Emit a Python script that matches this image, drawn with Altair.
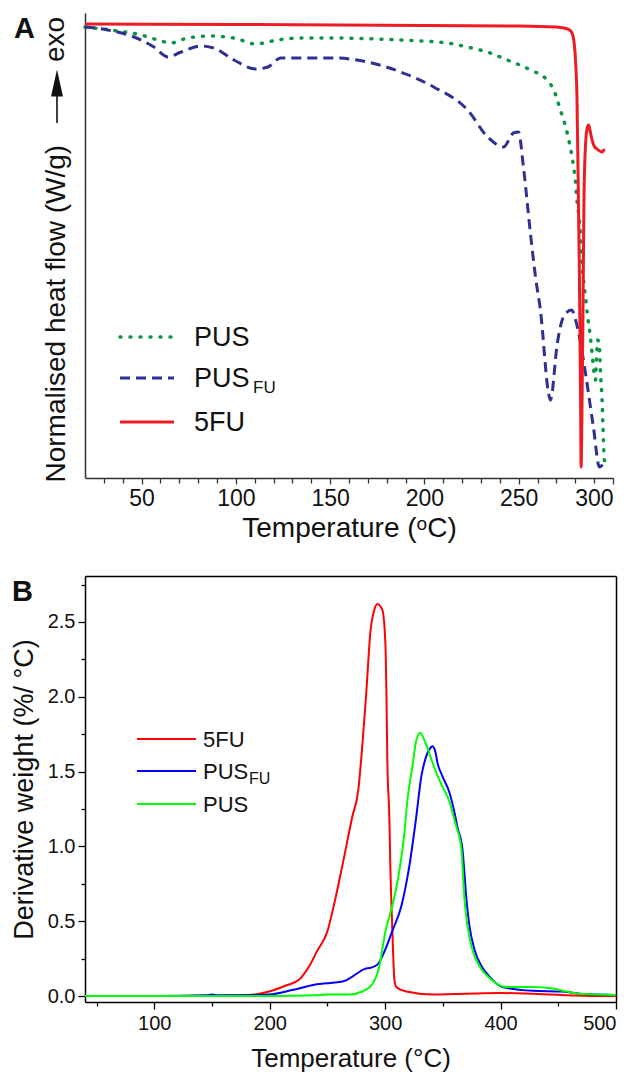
import altair as alt
import pandas as pd

FONT = "Liberation Sans"

# ---------------- Panel A: DSC (normalised heat flow, arbitrary units) ----------------
a_pus_T = [20, 33.8, 49.7, 58.7, 65.5, 72.5, 85.7, 98.9, 110.6, 122, 134.4, 150, 187, 212, 222.7,
           233.3, 243.9, 256.2, 265, 268.6, 272.1, 275.7, 278.3, 280, 280.9, 282.7, 283.6, 284.5,
           285.4, 286.6, 288, 288.9, 289.8, 290.7, 291.2, 291.9, 292.8, 293.3, 294.2, 294.7, 295.4, 296.5]
a_pus_v = [451, 448, 443, 438, 435, 439, 442, 440, 434, 438, 440, 440, 438, 435, 431,
           426, 418, 408, 398, 388, 368, 345, 321, 298, 278, 245, 211, 196,
           181, 161, 141, 125, 108, 98, 118, 138, 131, 108, 78, 51, 18, 15]

a_pusfu_T = [20, 32, 46, 56.5, 64, 71, 81.4, 88.3, 99, 110.6, 117, 123.8, 134.4, 152, 170, 187.4,
             204.9, 222.9, 233.5, 242, 247.2, 249.9, 252.5, 256.2, 258.9, 261.5, 265.8, 266.8,
             270.5, 273.7, 277.9, 281.1, 284.3, 289.6, 292.8, 296]
a_pusfu_v = [451, 448, 441, 431, 421, 426, 432, 430, 418, 409, 411, 420, 420, 420, 416, 406,
             391, 368, 341, 331, 345, 346, 311, 245, 201, 168, 85, 78,
             135, 161, 168, 151, 118, 51, 11, 18]

a_5fu_T = [20, 100, 200, 250, 270, 276, 278, 279.2, 280.2, 280.9, 281.5, 282.2, 282.8, 283.1,
           283.5, 284, 284.6, 285.3, 286.3, 287.1, 288, 288.9, 290, 291.5, 293, 294.2, 295.4]
a_5fu_v = [454, 453.5, 452.5, 452, 451, 449, 446, 438, 415, 380, 300, 200, 80, 11,
           60, 150, 278, 328, 350, 353, 346, 338, 332, 329, 327, 326, 329]

# ---------------- Panel B: DTG (derivative weight, %/°C) ----------------
b_5fu_T = [40, 100, 150, 180, 199.6, 214, 225.6, 234.3, 241, 249.9, 256, 262.9, 271.6, 276.8,
           280.2, 283.7, 287.2, 290.6, 293.2, 297.6, 300.2, 301.1, 301.9, 303.7, 304.5, 306.3,
           308, 309.7, 318.4, 341, 399, 485.8, 500]
b_5fu_v = [0.0, 0.0, 0.0, 0.005, 0.03, 0.07, 0.11, 0.2, 0.3, 0.43, 0.62, 0.87, 1.2, 1.38,
           1.67, 2.03, 2.43, 2.58, 2.62, 2.58, 2.36, 2.03, 1.58, 1.18, 0.87, 0.43,
           0.11, 0.06, 0.03, 0.01, 0.02, 0.0, 0.0]

b_pusfu_T = [40, 100, 145, 150, 155, 180, 199.6, 219.5, 238.6, 264.6, 271.6, 282, 288, 293.3, 299,
             306, 314, 321, 327, 331.4, 334, 338.4, 341, 343.6, 345.3, 349.6, 355.7, 360, 362.6,
             367, 370.4, 373, 377.4, 383.4, 390.4, 401.7, 427.7, 453.7, 471, 499.7]
b_pusfu_v = [0.0, 0.0, 0.005, 0.01, 0.005, 0.005, 0.01, 0.04, 0.075, 0.10, 0.13, 0.18, 0.19, 0.21, 0.29,
             0.43, 0.6, 0.87, 1.2, 1.47, 1.56, 1.65, 1.67, 1.63, 1.56, 1.47, 1.36, 1.23, 1.13,
             0.98, 0.65, 0.47, 0.31, 0.2, 0.13, 0.06, 0.035, 0.03, 0.013, 0.007]

b_pus_T = [40, 100, 200, 240, 250, 269, 280, 289, 295, 300.2, 305.4, 310.6, 316.7, 319.3, 323.6,
           327, 330.5, 334, 340.1, 344.4, 349.6, 355.7, 360, 361.8, 366.1, 368.7, 371.3, 375.6,
           383.4, 390.4, 405.1, 427.7, 445, 457.2, 471, 499.7]
b_pus_v = [0.0, 0.0, 0.0, 0.005, 0.01, 0.01, 0.03, 0.08, 0.2, 0.43, 0.58, 0.76, 1.09, 1.31, 1.53,
           1.71, 1.76, 1.71, 1.58, 1.49, 1.4, 1.3, 1.18, 1.13, 0.98, 0.65, 0.47, 0.31,
           0.18, 0.12, 0.06, 0.06, 0.05, 0.03, 0.013, 0.007]

a_ticks = list(range(30, 301, 10))
b_xticks = list(range(50, 501, 50))
b_yticks = [i * 0.25 for i in range(0, 12)]

COL_A = {"PUS": "#0b9444", "PUSFU": "#2e3192", "5FU": "#ed1c24"}
COL_B = {"PUS": "#00ff00", "PUSFU": "#0000ff", "5FU": "#ff0000"}

WA, HA = 528, 465
WB, HB = 531, 426


def df(T, v):
    return pd.DataFrame({"T": T, "v": v})


one = pd.DataFrame({"k": [0]})

# ---------- Panel A ----------
axA_x = alt.Axis(values=a_ticks, labelExpr="datum.value % 50 === 0 ? datum.label : ''",
                 tickSize={"condition": {"test": "datum.value % 50 === 0", "value": 6}, "value": 5},
                 grid=False, domainColor="#333333", domainWidth=1.5, tickColor="#333333", tickWidth=1.3,
                 labelFont=FONT, labelFontSize=23, labelColor="#111111", labelPadding=3,
                 title="Temperature (ᵒC)", titleFont=FONT, titleFontSize=28, titleFontWeight="normal",
                 titleColor="#111111", titlePadding=4)
axA_y = alt.Axis(labels=False, ticks=False, grid=False, domainColor="#333333", domainWidth=1.5,
                 title="Normalised heat flow (W/g)", titleFont=FONT, titleFontSize=28,
                 titleFontWeight="normal", titleColor="#111111", titleAngle=270, titleAlign="left",
                 titleBaseline="alphabetic", titleX=-21, titleY=469)
xA = alt.X("T:Q", scale=alt.Scale(domain=[20, 300], nice=False, zero=False), axis=axA_x)
yA = alt.Y("v:Q", scale=alt.Scale(domain=[0, 465], nice=False, zero=False), axis=axA_y)

lA_pus = alt.Chart(df(a_pus_T, a_pus_v)).mark_line(
    interpolate="monotone", color=COL_A["PUS"], strokeWidth=3.5, strokeDash=[1, 9], strokeCap="round"
).encode(x=xA, y=yA)
lA_pusfu = alt.Chart(df(a_pusfu_T, a_pusfu_v)).mark_line(
    interpolate="monotone", color=COL_A["PUSFU"], strokeWidth=3, strokeDash=[10, 6]
).encode(x=xA, y=yA)
lA_5fu = alt.Chart(df(a_5fu_T, a_5fu_v)).mark_line(
    interpolate="monotone", color=COL_A["5FU"], strokeWidth=3
).encode(x=xA, y=yA)

exo = alt.Chart(one).mark_text(text="exo", angle=270, align="left", baseline="alphabetic",
                               font=FONT, fontSize=28, color="#111111").encode(
    x=alt.value(-21), y=alt.value(49))
arrow_line = alt.Chart(one).mark_rule(color="#111111", strokeWidth=1.6).encode(
    x=alt.value(-28), y=alt.value(80), y2=alt.value(110))
arrow_head = alt.Chart(one).mark_point(shape="M0,-1L0.44,1L-0.44,1Z", filled=True, size=729,
                                       color="#111111", opacity=1).encode(
    x=alt.value(-28), y=alt.value(70))
labA = alt.Chart(one).mark_text(text="A", align="left", baseline="alphabetic", font=FONT,
                                fontSize=29, fontWeight="bold", color="#111111").encode(
    x=alt.value(-71), y=alt.value(25))

legA = []
rowsA = [("PUS", "", COL_A["PUS"], [1, 9], "round", 3.5, 324),
         ("PUS", "FU", COL_A["PUSFU"], [10, 6], "butt", 3, 365),
         ("5FU", "", COL_A["5FU"], None, "butt", 3, 409)]
for main, sub, col, dash, cap, sw, yy in rowsA:
    kw = dict(color=col, strokeWidth=sw, strokeCap=cap)
    if dash:
        kw["strokeDash"] = dash
    legA.append(alt.Chart(one).mark_rule(**kw).encode(
        x=alt.value(35), x2=alt.value(89), y=alt.value(yy)))
    legA.append(alt.Chart(one).mark_text(text=main, align="left", baseline="alphabetic", font=FONT,
                                         fontSize=27, color="#111111").encode(
        x=alt.value(109), y=alt.value(yy + 9)))
    if sub:
        legA.append(alt.Chart(one).mark_text(text=sub, align="left", baseline="alphabetic", font=FONT,
                                             fontSize=17, color="#111111").encode(
            x=alt.value(168), y=alt.value(yy + 15)))

chartA = alt.layer(lA_pus, lA_pusfu, lA_5fu, exo, arrow_line, arrow_head, labA, *legA).properties(
    width=WA, height=HA, view=alt.ViewBackground(strokeOpacity=0))

# ---------- Panel B ----------
axB_x = alt.Axis(values=b_xticks, labelExpr="datum.value % 100 === 0 ? datum.label : ''",
                 tickSize={"condition": {"test": "datum.value % 100 === 0", "value": 7}, "value": 4},
                 grid=False, domainColor="#000000", domainWidth=1.5, tickColor="#000000", tickWidth=1.3,
                 labelFont=FONT, labelFontSize=20, labelColor="#111111", labelPadding=4,
                 title="Temperature (°C)", titleFont=FONT, titleFontSize=26, titleFontWeight="normal",
                 titleColor="#111111", titlePadding=12)
axB_y = alt.Axis(values=b_yticks, format=".1f",
                 labelExpr="round(datum.value * 100) % 50 === 0 ? datum.label : ''",
                 tickSize={"condition": {"test": "round(datum.value * 100) % 50 === 0", "value": 7},
                           "value": 4},
                 grid=False, domainColor="#000000", domainWidth=1.5, tickColor="#000000", tickWidth=1.3,
                 labelFont=FONT, labelFontSize=20, labelColor="#111111", labelPadding=3,
                 title="Derivative weight (%/ °C)", titleFont=FONT, titleFontSize=27,
                 titleFontWeight="normal", titleColor="#111111", titlePadding=9)
scB_x = alt.Scale(domain=[40, 500], nice=False, zero=False)
scB_y = alt.Scale(domain=[-0.04, 2.807], nice=False, zero=False)
xB = alt.X("T:Q", scale=scB_x, axis=axB_x)
yB = alt.Y("v:Q", scale=scB_y, axis=axB_y)

lB_5fu = alt.Chart(df(b_5fu_T, b_5fu_v)).mark_line(
    interpolate="monotone", color=COL_B["5FU"], strokeWidth=2).encode(x=xB, y=yB)
lB_pusfu = alt.Chart(df(b_pusfu_T, b_pusfu_v)).mark_line(
    interpolate="monotone", color=COL_B["PUSFU"], strokeWidth=2).encode(x=xB, y=yB)
lB_pus = alt.Chart(df(b_pus_T, b_pus_v)).mark_line(
    interpolate="monotone", color=COL_B["PUS"], strokeWidth=2).encode(x=xB, y=yB)

# mirror axes (top and right) to close the frame of panel B
frame_ax = dict(labels=False, ticks=False, grid=False, title="", domainColor="#000000", domainWidth=1.5)
frameB = alt.Chart(df(b_pus_T, b_pus_v)).mark_line(opacity=0).encode(
    x=alt.X("T:Q", scale=scB_x, axis=alt.Axis(orient="top", **frame_ax)),
    y=alt.Y("v:Q", scale=scB_y, axis=alt.Axis(orient="right", **frame_ax)))

labB = alt.Chart(one).mark_text(text="B", align="left", baseline="alphabetic", font=FONT,
                                fontSize=29, fontWeight="bold", color="#111111").encode(
    x=alt.value(-73), y=alt.value(25))

legB = []
rowsB = [("5FU", "", COL_B["5FU"], 163), ("PUS", "FU", COL_B["PUSFU"], 195), ("PUS", "", COL_B["PUS"], 228)]
for main, sub, col, yy in rowsB:
    legB.append(alt.Chart(one).mark_rule(color=col, strokeWidth=2).encode(
        x=alt.value(52), x2=alt.value(111), y=alt.value(yy)))
    legB.append(alt.Chart(one).mark_text(text=main, align="left", baseline="alphabetic", font=FONT,
                                         fontSize=22, color="#111111").encode(
        x=alt.value(118), y=alt.value(yy + 8)))
    if sub:
        legB.append(alt.Chart(one).mark_text(text=sub, align="left", baseline="alphabetic", font=FONT,
                                             fontSize=16, color="#111111").encode(
            x=alt.value(164), y=alt.value(yy + 13)))

linesB = alt.layer(lB_5fu, lB_pusfu, lB_pus, labB, *legB)
chartB = alt.layer(linesB, frameB).resolve_axis(x="independent", y="independent").properties(
    width=WB, height=HB, view=alt.ViewBackground(strokeOpacity=0))

chart = alt.vconcat(chartA, chartB, spacing=34).properties(
    padding={"left": 2, "top": 5, "right": 5, "bottom": 5}
).configure_view(strokeOpacity=0).configure(background="white")

chart.save("out.html", embed_options={"renderer": "svg", "actions": False})
